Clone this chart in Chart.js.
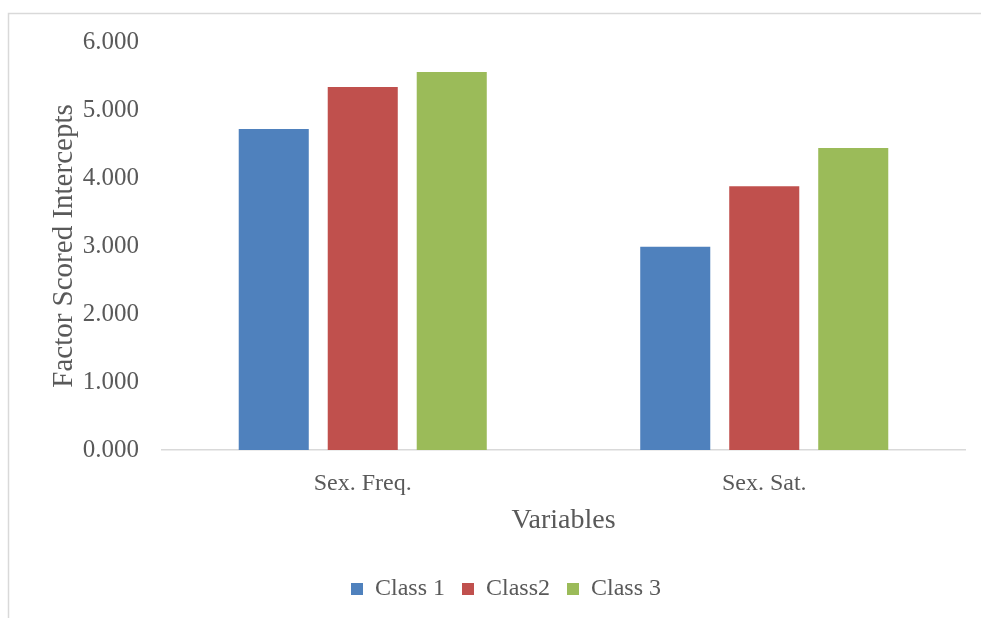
<!DOCTYPE html>
<html>
<head>
<meta charset="utf-8">
<script src="https://cdn.jsdelivr.net/npm/chart.js@4/dist/chart.umd.min.js"></script>
<style>
  html, body { margin: 0; padding: 0; background: #ffffff; }
  #wrap { width: 981px; height: 618px; position: relative; }
</style>
</head>
<body>
<div id="wrap"><canvas id="c" width="981" height="618"></canvas></div>
<script>
// Factor scored intercepts per latent class
const categories = ['Sex. Freq.', 'Sex. Sat.'];
const seriesNames = ['Class 1', 'Class2', 'Class 3'];
const class1 = [4.72, 2.99];
const class2 = [5.34, 3.88];
const class3 = [5.56, 4.44];
const yTicks = [0, 1, 2, 3, 4, 5, 6];

const colors = ['#4F81BD', '#C0504D', '#9BBB59'];
const textColor = '#595959';
const fontFamily = '"Liberation Serif", "DejaVu Serif", serif';

// light frame around the chart (left and top edges)
const framePlugin = {
  id: 'frame',
  beforeDraw(chart) {
    const ctx = chart.ctx;
    ctx.save();
    ctx.fillStyle = '#ffffff';
    ctx.fillRect(0, 0, chart.width, chart.height);
    ctx.strokeStyle = '#d9d9d9';
    ctx.lineWidth = 1.5;
    ctx.beginPath();
    ctx.moveTo(8.5, chart.height + 2);
    ctx.lineTo(8.5, 13.5);
    ctx.lineTo(chart.width + 2, 13.5);
    ctx.stroke();
    ctx.restore();
  }
};

new Chart(document.getElementById('c'), {
  type: 'bar',
  data: {
    labels: categories,
    datasets: [class1, class2, class3].map((vals, i) => ({
      label: seriesNames[i],
      data: vals,
      backgroundColor: colors[i],
      borderWidth: 0,
      categoryPercentage: 0.665,
      barPercentage: 0.787
    }))
  },
  options: {
    responsive: false,
    devicePixelRatio: 1,
    animation: false,
    layout: { padding: { top: 42, right: 16, left: 47, bottom: 7 } },
    plugins: {
      legend: {
        position: 'bottom',
        labels: {
          boxWidth: 12,
          boxHeight: 12,
          padding: 17,
          color: textColor,
          font: { family: fontFamily, size: 24 }
        }
      },
      tooltip: { enabled: false }
    },
    scales: {
      x: {
        grid: { display: false, drawTicks: false },
        border: { display: true, color: '#d9d9d9', width: 1.5 },
        ticks: {
          color: textColor,
          padding: 19,
          font: { family: fontFamily, size: 24 }
        },
        title: {
          display: true,
          text: 'Variables',
          color: textColor,
          padding: { top: 23, bottom: 23 },
          font: { family: fontFamily, size: 28 }
        },
        afterFit(scale) { scale.height = 110; }
      },
      y: {
        min: 0,
        max: 6,
        grid: { display: false, drawTicks: false },
        border: { display: false },
        afterBuildTicks(scale) { scale.ticks = yTicks.map(v => ({ value: v })); },
        ticks: {
          color: textColor,
          padding: 23,
          font: { family: fontFamily, size: 25 },
          callback: (v) => Number(v).toFixed(3)
        },
        title: {
          display: true,
          text: 'Factor Scored Intercepts',
          color: textColor,
          padding: { top: 0, bottom: 0 },
          font: { family: fontFamily, size: 29 }
        },
        afterFit(scale) { scale.width = 115; }
      }
    }
  },
  plugins: [framePlugin]
});
</script>
</body>
</html>
